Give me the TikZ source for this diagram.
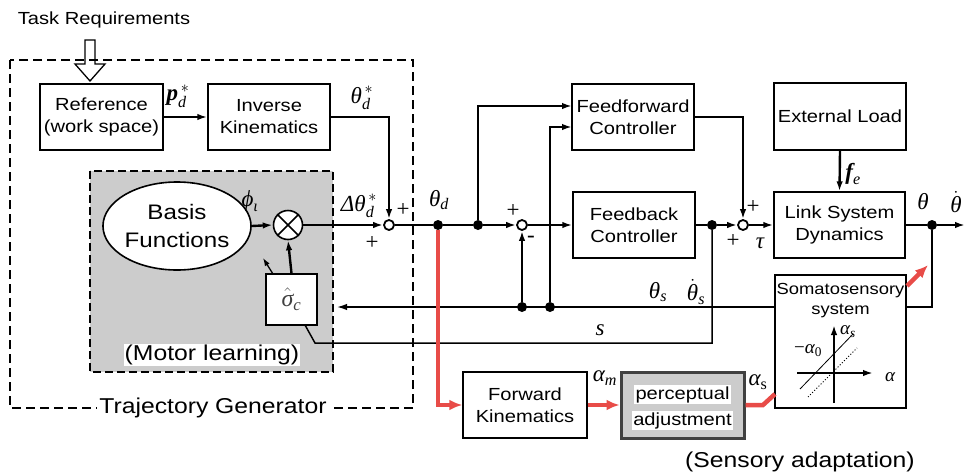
\documentclass[tikz,border=0pt]{standalone}
\usepackage{fix-cm}
\usepackage{amsmath}
\usepackage{fontspec}
\setmainfont{Liberation Sans}[FakeStretch=1.15]
\newfontfamily\serfam{Liberation Serif}
\usetikzlibrary{arrows.meta,calc,shapes.geometric}
\definecolor{redln}{RGB}{232,76,72}
\newcommand{\txA}{\fontsize{17.5}{22}\selectfont}
\newcommand{\txB}{\fontsize{21.5}{28}\selectfont}
\newcommand{\txC}{\fontsize{16}{20}\selectfont}
\newcommand{\mlab}{\fontsize{23}{26}\selectfont}
\newcommand{\mlabs}{\fontsize{19}{22}\selectfont}
\newcommand{\mi}[1]{\text{\serfam\itshape #1}}
\newcommand{\mbi}[1]{\text{\serfam\bfseries\itshape #1}}
\newcommand{\mr}[1]{\text{\serfam #1}}
\begin{document}
\begin{tikzpicture}[x=1pt,y=-1pt,
  blk/.style={draw,line width=1.4pt,fill=white,align=center,inner sep=0pt,font=\txA},
  sigl/.style={line width=2.4pt},
  thinl/.style={line width=1.5pt},
  arr/.style={-{Latex[length=10pt,width=6.5pt]}},
  rarr/.style={draw=redln,line width=4.5pt,-{Latex[length=13pt,width=11pt]}},
  dot/.style={circle,fill=black,inner sep=0pt,minimum size=10pt},
  sumn/.style={circle,draw,line width=1.8pt,fill=white,inner sep=0pt,minimum size=10pt},
  lab/.style={inner sep=0pt,font=\mlab},
]
\useasboundingbox (0,0) rectangle (965,474);

% outer dashed trajectory generator box
\draw[line width=1.5pt,dash pattern=on 9pt off 5pt] (10,60) rectangle (413,408);
% gray motor learning box
\draw[fill=black!20,line width=1.3pt,dash pattern=on 8pt off 4pt] (90,171) rectangle (333,372);

% title and hollow arrow
\node[font=\txA] (task) at (104,20) {Task Requirements};
\draw[line width=1.3pt] (85,40) -- (95,40) -- (95,64) -- (105,64) -- (90,81) -- (75,64) -- (85,64) -- cycle;

% blocks
\node[blk,minimum width=123pt,minimum height=66pt] (ref) at (101.5,117) {Reference\\(work space)};
\node[blk,minimum width=122pt,minimum height=66pt] (ik) at (269,117) {Inverse\\Kinematics};
\node[blk,minimum width=122pt,minimum height=66pt] (ff) at (633,117) {Feedforward\\Controller};
\node[blk,minimum width=122pt,minimum height=66pt] (fb) at (634,225) {Feedback\\Controller};
\node[blk,minimum width=132pt,minimum height=67pt] (ext) at (840,116.5) {External Load};
\node[blk,minimum width=131pt,minimum height=66pt] (lsd) at (839.5,225) {Link System\\Dynamics};
\node[blk,minimum width=131pt,minimum height=133pt] (soma) at (840.5,341.5) {};
\node[font=\txC,align=center,inner sep=0pt] (somat) at (840.5,301) {Somatosensory\\system};
\node[blk,minimum width=124pt,minimum height=66pt] (fk) at (525,405) {Forward\\Kinematics};
\node[blk,draw=black!75,line width=3pt,fill=black!20,minimum width=123pt,minimum height=66pt,
  font={\fontsize{17.5}{26}\selectfont},text depth=0pt] (pa) at (682.5,405)
  {\setlength{\fboxsep}{1.5pt}\colorbox{white}{perceptual}\\\setlength{\fboxsep}{1.5pt}\colorbox{white}{adjustment}};
\node[draw,ellipse,line width=1.6pt,fill=white,minimum width=126pt,minimum height=88pt,
  inner sep=0pt,align=center,font={\fontsize{21}{28}\selectfont}] (basis) at (177,226) {Basis\\Functions};
\node[circle,draw,line width=1.6pt,fill=white,minimum size=29pt,inner sep=0pt] (mult) at (288,225) {};
\draw[line width=1.6pt] (mult.north west) -- (mult.south east) (mult.north east) -- (mult.south west);
\node[blk,minimum size=51pt,font=\fontsize{24}{26}\selectfont,text=black!75] (sig) at (291.5,299.5) {$\hat{\mi{σ}}_{\mi{c}}$};

% summing junctions and dots
\node[sumn] (s1) at (389,225) {};
\node[sumn] (s2) at (522,225) {};
\node[sumn] (s3) at (743,225) {};
\node[dot] (d1) at (438,225) {};
\node[dot] (d2) at (478,225) {};
\node[dot] (d3) at (522,307) {};
\node[dot] (d4) at (550,307) {};
\node[dot] (d5) at (712,225) {};
\node[dot] (d6) at (932,225) {};

% free ends
\coordinate (ffa) at (572,106);
\coordinate (ffb) at (572,127);
\coordinate (out) at (965,225);
\coordinate (fbk) at (337,307);
\coordinate (sb1) at (712,343);
\coordinate (sb2) at (315,343);
\coordinate (sigbr) at (305,325);
\coordinate (somaout) at (906,307);
\coordinate (somain) at (775,307);
\coordinate (rk1) at (763,405);
\coordinate (rk2) at (775,394);
\coordinate (ra1) at (907,286);
\coordinate (ra2) at (928,265);
\coordinate (sl1) at (273,274);
\coordinate (sl2) at (263,258);

% black connectors
\draw[sigl,arr] (ref.east) -- (ik.west);
\draw[sigl,arr] (ik.east) -| (s1.north);
\draw[sigl,arr] (basis.east) -- (mult.west);
\draw[sigl,arr] (sig.north) -- (mult.south);
\draw[line width=1.3pt,-{Latex[length=8pt,width=5.5pt]}] (sl1) -- (sl2);
\draw[sigl,arr] (mult.east) -- (s1.west);
\draw[sigl] (s1.east) -- (d1) -- (d2);
\draw[sigl,arr] (d2) -- (s2.west);
\draw[sigl,arr] (d2) |- (ffa);
\draw[sigl,arr] (d4) |- (ffb);
\draw[sigl,arr] (d3) -- (s2.south);
\draw[sigl,arr] (s2.east) -- (fb.west);
\draw[sigl] (fb.east) -- (d5);
\draw[sigl,arr] (d5) -- (s3.west);
\draw[sigl,arr] (ff.east) -| (s3.north);
\draw[sigl,arr] (s3.east) -- (lsd.west);
\draw[sigl,arr] (ext.south) -- (lsd.north);
\draw[sigl] (lsd.east) -- (d6);
\draw[sigl,arr] (d6) -- (out);
\draw[thinl] (somaout) -| (d6);
\draw[thinl,arr] (somain) -- (fbk);
\draw[thinl] (d5) -- (sb1) -- (sb2) -- (sigbr);

% red connectors
\draw[rarr] (d1.south) |- (fk.west);
\draw[rarr] (fk.east) -- (pa.west);
\draw[redln,line width=4.5pt] (pa.east) -- (rk1) -- (rk2);
\draw[rarr] (ra1) -- (ra2);

% plot inside somatosensory block
\draw[line width=2.4pt,arr] (834,403) -- (834,325);
\draw[line width=2.4pt,arr] (797,373) -- (873,373);
\draw[line width=0.8pt] (800,389) -- (853,334);
\draw[line width=1pt,dotted] (808,397) -- (857,348);
\node[lab,font=\mlabs] at (848,332) {$\mi{α}_{\mi{s}}$};
\node[lab,font=\mlabs] at (808,351) {$\mr{−}\mi{α}_{\mr{0}}$};
\node[lab,font=\mlabs] at (890,377) {$\mi{α}$};

% labels
\node[lab] at (178,96) {$\mbi{p}_{\mi{d}}^{\,*}$};
\node[lab] at (362,98) {$\mi{θ}_{\mi{d}}^{\,*}$};
\node[lab] at (359,206) {$\mi{Δθ}_{\mi{d}}^{\,*}$};
\node[lab] at (403,210) {\serfam +};
\node[lab] at (372,243) {\serfam +};
\node[lab] at (439,200) {$\mi{θ}_{\mi{d}}$};
\node[lab] at (513,211) {\serfam +};
\node[lab] at (531,239) {\serfam -};
\node[lab] at (250,201) {$\mi{ϕ}_{\mi{ι}}$};
\node[lab] at (658,292) {$\mi{θ}_{\mi{s}}$};
\node[lab] at (696,292) {$\dot{\mi{θ}}_{\mi{s}}$};
\node[lab] at (600,330) {\serfam\itshape s};
\node[lab] at (753,207) {\serfam +};
\node[lab] at (733,241) {\serfam +};
\node[lab] at (760,243) {\serfam\itshape τ};
\node[lab] at (853,174) {$\mbi{f}_{\mi{e}}$};
\node[lab] at (923,202) {\serfam\itshape θ};
\node[lab] at (956,202) {$\dot{\mi{θ}}$};
\node[lab] at (605,378) {$\mi{α}_{\mi{m}}$};
\node[lab] at (758,382) {$\mi{α}_{\mr{s}}$};

% section labels
\node[fill=white,inner sep=2pt,font=\txB] (tg) at (213,408) {Trajectory Generator};
\node[fill=white,inner sep=1pt,font=\txB] (ml) at (212,355) {(Motor learning)};
\node[font=\txB] (sa) at (800,462) {(Sensory adaptation)};
\end{tikzpicture}
\end{document}
